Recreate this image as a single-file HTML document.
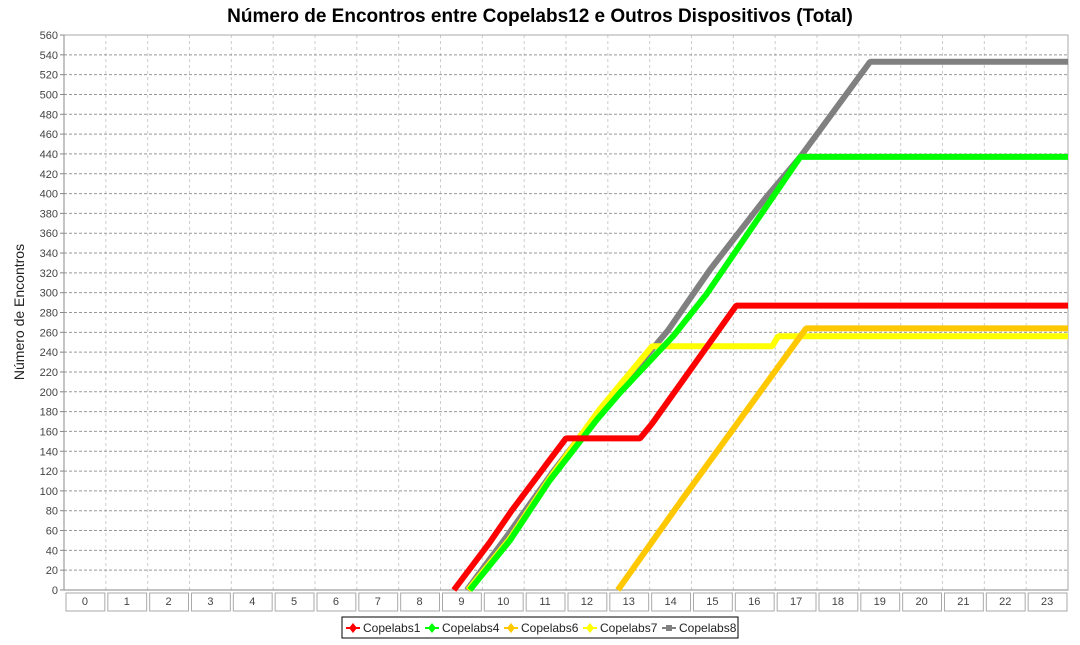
<!DOCTYPE html>
<html><head><meta charset="utf-8"><style>
body{margin:0;background:#fff;font-family:"Liberation Sans",sans-serif}
svg text{font-family:"Liberation Sans",sans-serif}
</style></head><body>
<svg id="c" width="1080" height="640" xmlns="http://www.w3.org/2000/svg">
<text x="540" y="22" text-anchor="middle" font-size="19" font-weight="bold">Número de Encontros entre Copelabs12 e Outros Dispositivos (Total)</text>
<text transform="translate(24,312) rotate(-90)" text-anchor="middle" font-size="14" fill="#222">Número de Encontros</text>
<g id="grid"></g><g id="axes"></g><g id="series"></g>
<g>
<rect x="342" y="617" width="396" height="21" fill="#fff" stroke="#000"/>
<g id="leg"></g>
</g>
</svg>
<script>
const categories=["0","1","2","3","4","5","6","7","8","9","10","11","12","13","14","15","16","17","18","19","20","21","22","23"];
const yTicks=[0,20,40,60,80,100,120,140,160,180,200,220,240,260,280,300,320,340,360,380,400,420,440,460,480,500,520,540,560];
const seriesNames=["Copelabs1","Copelabs4","Copelabs6","Copelabs7","Copelabs8"];
const seriesColors=["#ff0000","#00ff00","#ffc800","#ffff00","#808080"];
// x values in hours (fractional), y values counts
const c1x=[9.32,10.16,10.7,11.5,12.0,13.77,14.06,16.07,24];
const c1y=[0,47,80,125,153,153,168,287,287];
const c4x=[9.7,10.66,11.6,12.74,13.29,14.58,15.35,17.6,24];
const c4y=[0,50,110,172,199,257,298,437,437];
const c6x=[13.24,14.77,17.74,24];
const c6y=[0,91,264,264];
const c7x=[9.66,10.66,11.6,12.8,14.06,16.93,17.07,24];
const c7y=[0,52,112,182,246,246,256,256];
const c8x=[9.63,10.6,11.7,12.8,14.44,15.44,16.76,17.6,19.27,24];
const c8y=[0,55,120,180,262,323,395,437,533,533];
const X0=64,X1=1068,Y0=590,Y1=35,W=(X1-X0)/24;
const xs=h=>X0+h*W, ys=v=>Y0-(v/560)*(Y0-Y1);
const NS="http://www.w3.org/2000/svg";
function mk(t,a,p){const e=document.createElementNS(NS,t);for(const k in a)e.setAttribute(k,a[k]);p.appendChild(e);return e;}
const grid=document.getElementById('grid'),axes=document.getElementById('axes');
for(let i=1;i<24;i++){const l=mk('line',{x1:xs(i),x2:xs(i),y1:Y1,y2:Y0,stroke:'#ccc','stroke-dasharray':'3,3'},grid);

}
yTicks.forEach(v=>{
 if(v>0){const l=mk('line',{x1:X0,x2:X1,y1:ys(v),y2:ys(v),stroke:'#999','stroke-dasharray':'3,2'},grid);
 
 }
 const tk=mk('line',{x1:X0-4,x2:X0,y1:ys(v),y2:ys(v),stroke:'#888'},axes);
 
 
 const t=mk('text',{x:X0-6,y:ys(v)+4,'text-anchor':'end','font-size':'11',fill:'#444'},axes);t.textContent=v;
 
 
});
mk('rect',{x:X0,y:Y1,width:X1-X0,height:Y0-Y1,fill:'none',stroke:'#aaa'},axes);
mk('line',{x1:X0,x2:X1,y1:Y0,y2:Y0,stroke:'#888'},axes);
mk('line',{x1:X0,x2:X0,y1:Y1,y2:Y0,stroke:'#888'},axes);
categories.forEach((c,i)=>{
 const r=mk('rect',{x:xs(i)+2,y:Y0+3,width:W-3,height:18,fill:'#fff',stroke:'#aaa'},axes);
 
 
 const t=mk('text',{x:xs(i)+W/2,y:Y0+15,'text-anchor':'middle','font-size':'11',fill:'#444'},axes);t.textContent=c;
 
 
});
const data=[[c1x,c1y],[c4x,c4y],[c6x,c6y],[c7x,c7y],[c8x,c8y]];
const sg=document.getElementById('series');
[4,3,2,1,0].forEach(i=>{
 const [dx,dy]=data[i];
 const pts=dx.map((x,j)=>Math.min(xs(x),X1)+','+ys(dy[j])).join(' ');
 const p=mk('polyline',{points:pts,fill:'none',stroke:seriesColors[i],'stroke-width':6,'stroke-linejoin':'bevel'},sg);
 
 
});
const leg=document.getElementById('leg');let lx=346;
const legW=[79,79,79,79,80];
seriesNames.forEach((n,i)=>{
 const g=mk('g',{},leg);
 
 
 mk('line',{x1:lx,x2:lx+14,y1:628,y2:628,stroke:seriesColors[i],'stroke-width':2},g);
 if(i<4)mk('path',{d:`M${lx+7},623 L${lx+11},628 L${lx+7},633 L${lx+3},628Z`,fill:seriesColors[i]},g);
 else mk('rect',{x:lx+4,y:625,width:6,height:6,fill:seriesColors[i]},g);
 const t=mk('text',{x:lx+17,y:632,'font-size':'12',fill:'#222'},g);t.textContent=n;
 lx+=legW[i];
});
</script>
</body></html>
